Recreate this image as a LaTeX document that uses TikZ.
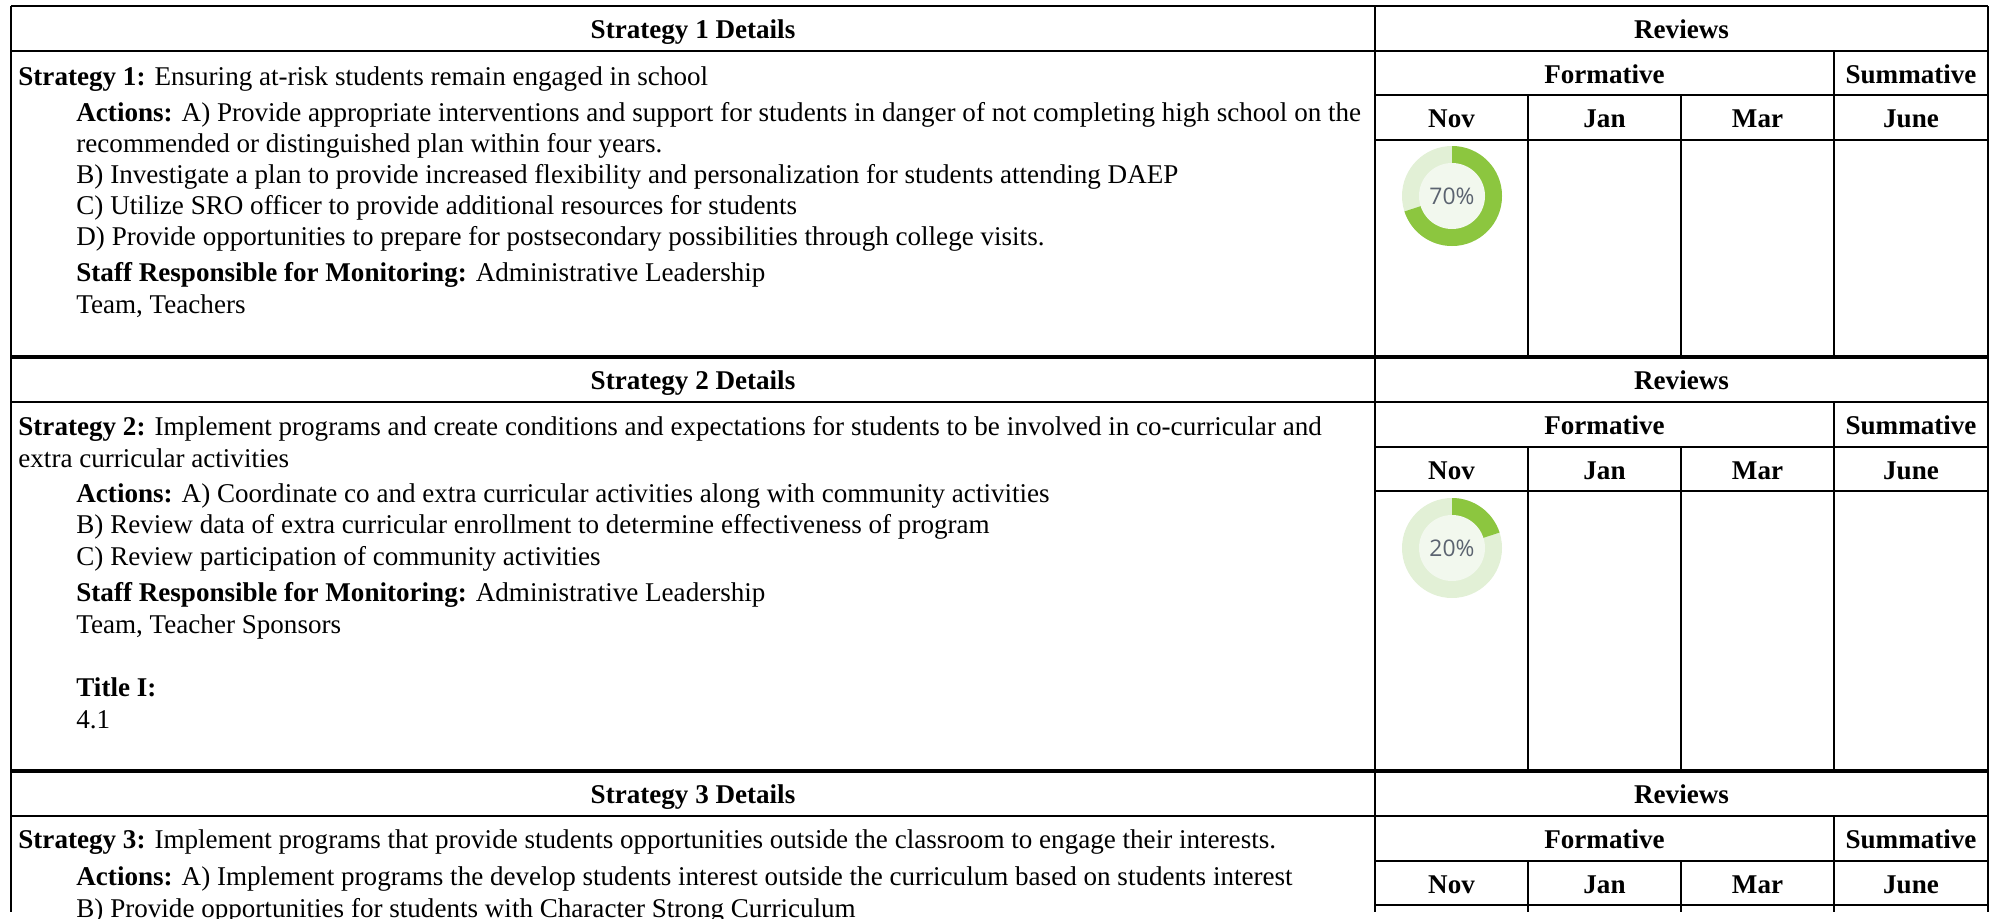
\documentclass[tikz,border=0pt]{standalone}
\usepackage{fontspec}
\setmainfont{Liberation Serif}
\newfontfamily\pctfont{Open Sans}
\usepackage{tikz}
\definecolor{donutgreen}{HTML}{8CC63F}
\definecolor{donutpale}{HTML}{E2F0D6}
\definecolor{donutcore}{HTML}{F2F8EE}
\definecolor{pctgray}{HTML}{5B6370}

\begin{document}
\begin{tikzpicture}[x=0.48pt, y=-0.48pt,
  rule/.style={line width=0.96pt},
  seprule/.style={line width=1.7pt},
  head/.style={anchor=base, font=\fontsize{13}{14.9}\selectfont\bfseries},
  body/.style={anchor=base west, align=left, inner sep=0pt,
    font=\fontsize{13}{14.9}\selectfont},
  pct/.style={font=\pctfont\fontsize{11}{12}\selectfont, text=pctgray}]

  \useasboundingbox (0,0) rectangle (1997,918);

  % Outer frame

  \draw[rule] (11,6) -- (1988,6);
  \draw[rule] (11,6) -- (11,912);
  \draw[rule] (1375,6) -- (1375,912);
  \draw[rule] (1988,6) -- (1988,912);

  % Strategy 1

  \draw[rule] (11,51) -- (1988,51);
  \draw[rule] (1375,95) -- (1988,95);
  \draw[rule] (1375,140) -- (1988,140);
  \draw[rule] (1528,95) -- (1528,357);
  \draw[rule] (1681,95) -- (1681,357);
  \draw[rule] (1834,51) -- (1834,357);

  \node[head] (s1head) at (693,38.5) {Strategy 1 Details};
  \node[head] (s1rev) at (1681.5,38.5) {Reviews};
  \node[head] (s1form) at (1604.5,83) {Formative};
  \node[head] (s1summ) at (1911,83) {Summative};
  \node[head] (s1nov) at (1451.5,127.5) {Nov};
  \node[head] (s1jan) at (1604.5,127.5) {Jan};
  \node[head] (s1mar) at (1757.5,127.5) {Mar};
  \node[head] (s1june) at (1911,127.5) {June};

  % multi-line nodes sit on the baseline of their last line
  \node[body] (s1strat) at (18,85) {\textbf{Strategy 1:} Ensuring at-risk students remain engaged in school};
  \node[body] (s1act) at (76,245.5) {\textbf{Actions:} A) Provide appropriate interventions and support for students in danger of not completing high school on the\\
    recommended or distinguished plan within four years.\\
    B) Investigate a plan to provide increased flexibility and personalization for students attending DAEP\\
    C) Utilize SRO officer to provide additional resources for students\\
    D) Provide opportunities to prepare for postsecondary possibilities through college visits.};
  \node[body] (s1staff) at (76,313) {\textbf{Staff Responsible for Monitoring:} Administrative Leadership\\Team, Teachers};

  \fill[donutpale] (1452,196) circle[radius=50];
  \fill[donutgreen] (1452,196) -- ++(-90:50) arc[start angle=-90, end angle=162, radius=50] -- cycle;
  \fill[donutcore] (1452,196) circle[radius=33];
  \node[pct] (s1pct) at (1452,196) {70\%};

  % Strategy 2

  \draw[seprule] (11,357) -- (1988,357);
  \draw[rule] (11,402) -- (1988,402);
  \draw[rule] (1375,447) -- (1988,447);
  \draw[rule] (1375,491) -- (1988,491);
  \draw[rule] (1528,447) -- (1528,771);
  \draw[rule] (1681,447) -- (1681,771);
  \draw[rule] (1834,402) -- (1834,771);

  \node[head] (s2head) at (693,389.5) {Strategy 2 Details};
  \node[head] (s2rev) at (1681.5,389.5) {Reviews};
  \node[head] (s2form) at (1604.5,434.5) {Formative};
  \node[head] (s2summ) at (1911,434.5) {Summative};
  \node[head] (s2nov) at (1451.5,479) {Nov};
  \node[head] (s2jan) at (1604.5,479) {Jan};
  \node[head] (s2mar) at (1757.5,479) {Mar};
  \node[head] (s2june) at (1911,479) {June};

  \node[body] (s2strat) at (18,467) {\textbf{Strategy 2:} Implement programs and create conditions and expectations for students to be involved in co-curricular and\\
    extra curricular activities};
  \node[body] (s2act) at (76,565) {\textbf{Actions:} A) Coordinate co and extra curricular activities along with community activities\\
    B) Review data of extra curricular enrollment to determine effectiveness of program\\
    C) Review participation of community activities};
  \node[body] (s2staff) at (76,633) {\textbf{Staff Responsible for Monitoring:} Administrative Leadership\\Team, Teacher Sponsors};
  \node[body] (s2title) at (76,728) {\textbf{Title I:}\\4.1};

  \fill[donutpale] (1452,548) circle[radius=50];
  \fill[donutgreen] (1452,548) -- ++(-90:50) arc[start angle=-90, end angle=-18, radius=50] -- cycle;
  \fill[donutcore] (1452,548) circle[radius=33];
  \node[pct] (s2pct) at (1452,548) {20\%};

  % Strategy 3

  \draw[seprule] (11,771) -- (1988,771);
  \draw[rule] (11,816) -- (1988,816);
  \draw[rule] (1375,861) -- (1988,861);
  \draw[rule] (1375,905) -- (1988,905);
  \draw[rule] (1528,861) -- (1528,912);
  \draw[rule] (1681,861) -- (1681,912);
  \draw[rule] (1834,816) -- (1834,912);

  \node[head] (s3head) at (693,803.5) {Strategy 3 Details};
  \node[head] (s3rev) at (1681.5,803.5) {Reviews};
  \node[head] (s3form) at (1604.5,848.5) {Formative};
  \node[head] (s3summ) at (1911,848.5) {Summative};
  \node[head] (s3nov) at (1451.5,893) {Nov};
  \node[head] (s3jan) at (1604.5,893) {Jan};
  \node[head] (s3mar) at (1757.5,893) {Mar};
  \node[head] (s3june) at (1911,893) {June};

  \node[body] (s3strat) at (18,848) {\textbf{Strategy 3:} Implement programs that provide students opportunities outside the classroom to engage their interests.};
  \node[body] (s3act) at (76,917) {\textbf{Actions:} A) Implement programs the develop students interest outside the curriculum based on students interest\\
    B) Provide opportunities for students with Character Strong Curriculum};

\end{tikzpicture}
\end{document}
